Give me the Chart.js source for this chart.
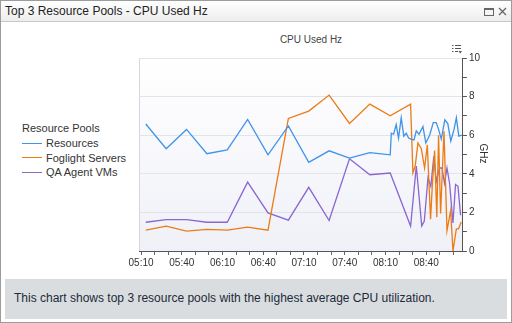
<!DOCTYPE html>
<html>
<head>
<meta charset="utf-8">
<script src="https://cdn.jsdelivr.net/npm/chart.js@4/dist/chart.umd.min.js"></script>
<style>
  body { margin: 0; font-family: "Liberation Sans", Arial, sans-serif; }
  #panel { position: relative; width: 512px; height: 323px; box-sizing: border-box; border: 1px solid #9c9c9c; background: #fff; overflow: hidden; }
  #bar { height: 20px; border-bottom: 1px solid #c9c9c9; background: linear-gradient(#ffffff, #ededed); font-size: 12px; color: #222; line-height: 20px; padding-left: 4px; }
  #icons { position: absolute; left: 481px; top: 5px; }
  #legend { position: absolute; left: 21px; top: 120px; font-size: 11px; color: #333; }
  #legend .item { display: flex; align-items: center; height: 14.5px; }
  #legend .swatch { width: 20px; height: 0; border-top: 1px solid; margin-right: 4px; }
  #legend .title { height: 15px; line-height: 15px; }
  #chartTitle { position: absolute; left: 250px; width: 120px; top: 33px; text-align: center; font-size: 10px; color: #444; }
  #axisTitle { position: absolute; left: 462px; width: 40px; top: 147px; text-align: center; font-size: 10px; color: #333; transform: rotate(90deg); transform-origin: 50% 50%; }
  #chartBox { position: absolute; left: 119px; top: 27px; width: 362px; height: 244px; }
  #menu { position: absolute; left: 450px; top: 43px; }
  #footer { position: absolute; left: 4px; top: 278px; width: 502px; height: 40px; background: #dadde0; font-size: 12px; color: #222a3a; line-height: 38px; padding-left: 9px; box-sizing: border-box; }
</style>
</head>
<body>
<div id="panel">
  <div id="bar">Top 3 Resource Pools - CPU Used Hz</div>
  <svg id="icons" width="28" height="12" viewBox="0 0 28 12">
    <rect x="2.5" y="2.5" width="9" height="7" fill="none" stroke="#666" stroke-width="1"/>
    <line x1="2.5" y1="3.5" x2="11.5" y2="3.5" stroke="#666" stroke-width="1"/>
    <path d="M17 2 L24 9 M24 2 L17 9" stroke="#666" stroke-width="1.3"/>
  </svg>
  <div id="legend"></div>
  <div id="chartTitle">CPU Used Hz</div>
  <div id="chartBox"><canvas id="chart" width="362" height="244"></canvas></div>
  <div id="axisTitle">GHz</div>
  <svg id="menu" width="12" height="10" viewBox="0 0 12 10">
    <g stroke="#555" stroke-width="1">
      <line x1="1" y1="1.5" x2="2.5" y2="1.5"/><line x1="4" y1="1.5" x2="10" y2="1.5"/>
      <line x1="1" y1="4.5" x2="2.5" y2="4.5"/><line x1="4" y1="4.5" x2="10" y2="4.5"/>
      <line x1="1" y1="7.5" x2="2.5" y2="7.5"/><line x1="4" y1="7.5" x2="7" y2="7.5"/>
    </g>
    <path d="M7.5 7 L11 7 L9.25 9.5 Z" fill="#555"/>
  </svg>
  <div id="footer">This chart shows top 3 resource pools with the highest average CPU utilization.</div>
</div>
<script>
// times are minutes after midnight
const xTickLabels = ['05:10', '05:40', '06:10', '06:40', '07:10', '07:40', '08:10', '08:40']

const resourcesTimes = [313.5, 328.5, 343.5, 358.5, 373.5, 388.5, 403.5, 418.5, 433.5, 448.5, 463.5, 478.5, 493.5,
  494.3, 496.0, 497.9, 499.6, 501.6, 503.5, 505.3, 507.0, 509.2, 511.0, 512.7, 514.7, 517.6, 519.7, 522.5,
  525.2, 527.4, 529.1, 531.1, 533.7, 535.9, 538.1, 540.5, 542.2, 544.0, 546.2]
const resourcesValues = [6.58, 5.3, 6.3, 5.04, 5.24, 6.82, 4.98, 6.48, 4.59, 5.19, 4.81, 5.1, 4.98,
  6.1, 6.05, 6.55, 5.85, 6.9, 5.95, 6.1, 5.85, 5.78, 5.75, 6.22, 6.05, 6.45, 5.6, 6.0,
  6.65, 6.65, 6.3, 5.8, 6.8, 6.6, 5.7, 6.3, 6.9, 5.95, 6.0]

const foglightTimes = [313.5, 328.5, 343.5, 358.5, 373.5, 388.5, 403.5, 418.5, 433.5, 448.5, 463.5, 478.5, 493.5, 508.5,
  510.2, 511.9, 513.9, 516.4, 518.8, 520.8, 523.2, 524.5, 526.2, 527.8, 529.1, 530.6, 533.1, 535.3,
  538.0, 539.7, 542.2, 543.8, 545.8]
const foglightValues = [1.08, 1.29, 1.03, 1.12, 1.08, 1.24, 1.08, 6.87, 7.25, 8.08, 6.61, 7.61, 7.01, 7.61,
  4.05, 4.4, 5.6, 5.3, 4.3, 5.5, 1.65, 3.4, 5.2, 1.75, 6.0, 1.95, 6.2, 1.05,
  2.1, 0, 1.15, 1.15, 1.5]

const qaTimes = [313.5, 328.5, 343.5, 358.5, 373.5, 388.5, 403.5, 418.5, 433.5, 448.5, 463.5, 478.5, 493.5, 508.5,
  512.7, 516.7, 518.6, 521.3, 523.4, 525.6, 527.4, 529.8, 531.6, 533.5, 535.3, 537.2, 539.7, 541.6, 543.4, 545.3]
const qaValues = [1.49, 1.63, 1.63, 1.49, 1.49, 3.57, 1.97, 1.6, 3.3, 1.58, 4.78, 3.95, 4.04, 1.29,
  4.4, 1.3, 1.55, 3.8, 3.35, 4.9, 3.6, 4.3, 4.3, 3.5, 4.3, 3.5, 1.45, 3.45, 3.35, 1.85]

const seriesNames = ['Resources', 'Foglight Servers', 'QA Agent VMs']
const seriesColors = ['#3f93e8', '#ec7b14', '#8a66d0']

const toMinutes = s => parseInt(s.slice(0, 2)) * 60 + parseInt(s.slice(3))
const firstTick = toMinutes(xTickLabels[0])
const fmt = m => String(Math.floor(m / 60)).padStart(2, '0') + ':' + String(m % 60).padStart(2, '0')

const points = (times, values) => times.map((t, i) => ({ x: t, y: values[i] }))
const seriesData = [
  points(resourcesTimes, resourcesValues),
  points(foglightTimes, foglightValues),
  points(qaTimes, qaValues)
]

const plotBackground = {
  id: 'plotBackground',
  beforeDraw(chart) {
    const { ctx, chartArea: { left, top, right, bottom } } = chart
    const g = ctx.createLinearGradient(0, top, 0, bottom)
    g.addColorStop(0, '#ffffff')
    g.addColorStop(1, '#f0f1f8')
    ctx.save()
    ctx.fillStyle = g
    ctx.fillRect(left, top, right - left, bottom - top)
    ctx.strokeStyle = '#d6d6dc'
    ctx.beginPath()
    ctx.moveTo(left + 0.5, top)
    ctx.lineTo(left + 0.5, bottom)
    ctx.stroke()
    ctx.restore()
  }
}

// html legend
const legend = document.getElementById('legend')
legend.innerHTML = '<div class="title">Resource Pools</div>' + seriesNames.map((n, i) =>
  `<div class="item"><span class="swatch" style="border-color:${seriesColors[i]}"></span>${n}</div>`).join('')

new Chart(document.getElementById('chart'), {
  type: 'line',
  data: {
    datasets: seriesNames.map((n, i) => ({
      label: n,
      data: seriesData[i],
      borderColor: seriesColors[i],
      borderWidth: 1.3,
      pointRadius: 0,
      tension: 0
    }))
  },
  options: {
    responsive: false,
    animation: false,
    devicePixelRatio: 1,
    layout: { padding: { left: 19, right: 0, top: 30, bottom: 1 } },
    plugins: {
      legend: { display: false },
      tooltip: { enabled: false },
      title: { display: false }
    },
    scales: {
      x: {
        type: 'linear',
        min: 308.5,
        max: 547,
        afterBuildTicks: scale => {
          const ticks = []
          for (let m = firstTick; m <= toMinutes(xTickLabels[xTickLabels.length - 1]) + 20; m += 10) ticks.push({ value: m })
          scale.ticks = ticks
        },
        ticks: {
          autoSkip: false,
          maxRotation: 0,
          color: '#333',
          padding: 2,
          font: { family: 'Liberation Sans', size: 10 },
          callback: v => xTickLabels.includes(fmt(v)) ? fmt(v) : ''
        },
        grid: { drawOnChartArea: false, tickLength: 4, color: '#666' },
        border: { color: '#555' }
      },
      y: {
        position: 'right',
        min: 0,
        max: 10,
        ticks: {
          stepSize: 1,
          autoSkip: false,
          color: '#333',
          padding: 2,
          font: { family: 'Liberation Sans', size: 10 },
          callback: v => v % 2 === 0 ? v : ''
        },
        grid: {
          color: c => (c.tick && c.tick.value % 2 === 0 && c.tick.value > 0) ? '#e3e3ea' : 'rgba(0,0,0,0)',
          tickColor: '#555',
          tickLength: 4
        },
        border: { color: '#555' }
      }
    }
  },
  plugins: [plotBackground]
})
</script>
</body>
</html>
